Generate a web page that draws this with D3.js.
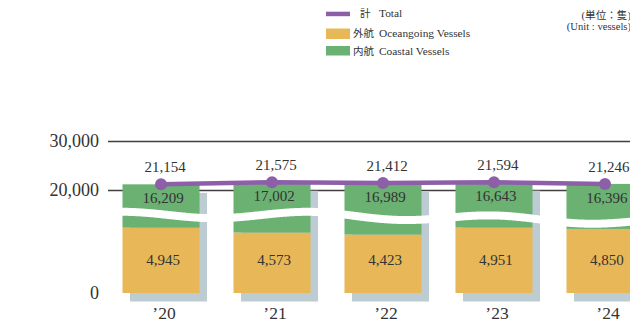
<!DOCTYPE html>
<html>
<head>
<meta charset="utf-8">
<script src="https://cdn.jsdelivr.net/npm/d3@7"></script>
<style>
  html, body { margin: 0; padding: 0; background: #fff; }
  svg { display: block; }
</style>
</head>
<body>
<svg id="chart" width="630" height="324"></svg>
<script>
// Fleet size by year (vessels)
const years = ["’20", "’21", "’22", "’23", "’24"];
const oceangoing = [4945, 4573, 4423, 4951, 4850];
const coastal = [16209, 17002, 16989, 16643, 16396];
const totals = [21154, 21575, 21412, 21594, 21246];
const yTicks = [0, 20000, 30000];

const legendItems = [
  { jp: "計", en: "Total", key: "total" },
  { jp: "外航", en: "Oceangoing Vessels", key: "ocean" },
  { jp: "内航", en: "Coastal Vessels", key: "coastal" }
];
const unitLines = ["(単位：隻)", "(Unit : vessels)"];

const colors = {
  ocean: "#e8b757",
  coastal: "#6ab172",
  total: "#8d5fa9",
  shadow: "#bdcbd3",
  grid: "#3f3f3f",
  text: "#333333"
};
const serif = "'Liberation Serif', 'Times New Roman', 'Noto Sans CJK JP', serif";

const W = 630, H = 324;
const svg = d3.select("#chart");

// Broken value axis: the lower part shows 0–5,900, the upper part 14,800–30,000
const y = d3.scaleLinear()
  .domain([0, 5900, 14800, 20000, 30000])
  .range([293, 215, 215, 190, 141]);

const x = d3.scaleBand()
  .domain(years)
  .range([122.5, 643.5])
  .paddingInner(0.306)
  .paddingOuter(0);

const rows = years.map((yr, i) => ({
  year: yr,
  ocean: oceangoing[i],
  coastal: coastal[i],
  total: totals[i]
}));

// Gridlines and tick labels
const axisLeft = 108;
const axis = d3.axisLeft(y)
  .tickValues(yTicks)
  .tickSize(-(W - axisLeft))
  .tickPadding(9)
  .tickFormat(d3.format(","));

const gAxis = svg.append("g")
  .attr("transform", `translate(${axisLeft},0)`)
  .call(axis);
gAxis.select(".domain").remove();
gAxis.selectAll(".tick line")
  .attr("stroke", colors.grid)
  .attr("stroke-width", 1.3)
  .attr("display", d => d === 0 ? "none" : null);
gAxis.selectAll(".tick text")
  .attr("fill", colors.text)
  .style("font-family", serif)
  .style("font-size", "18px");

// Drop shadows behind each bar
const shadowDx = 7.5, shadowDy = 8.5;
svg.append("g").selectAll("rect")
  .data(rows)
  .join("rect")
  .attr("x", d => x(d.year) + shadowDx)
  .attr("y", d => y(d.total) + shadowDy)
  .attr("width", x.bandwidth())
  .attr("height", d => y(0) - y(d.total))
  .attr("fill", colors.shadow);

// Stacked bars: oceangoing at the bottom, coastal on top
const gBars = svg.append("g");
gBars.selectAll("rect.ocean")
  .data(rows)
  .join("rect")
  .attr("class", "ocean")
  .attr("x", d => x(d.year))
  .attr("y", d => y(d.ocean))
  .attr("width", x.bandwidth())
  .attr("height", d => y(0) - y(d.ocean))
  .attr("fill", colors.ocean);
gBars.selectAll("rect.coastal")
  .data(rows)
  .join("rect")
  .attr("class", "coastal")
  .attr("x", d => x(d.year))
  .attr("y", d => y(d.total))
  .attr("height", d => y(d.ocean) - y(d.total))
  .attr("width", x.bandwidth())
  .attr("fill", colors.coastal);

// Wavy white band marking the axis break
const breakY = y(5900);
const waveCenter = px => breakY - 3.2 * Math.cos(2 * Math.PI * (px - 122) / 186) + 0.02 * Math.max(0, px - 312);
const wavePts = d3.range(110, W + 12, 2).map(px => [px, waveCenter(px)]);
svg.append("path")
  .attr("d", d3.line().curve(d3.curveBasis)(wavePts))
  .attr("fill", "none")
  .attr("stroke", "#ffffff")
  .attr("stroke-width", 8);

// Total line with markers
const cx = d => x(d.year) + x.bandwidth() / 2;
svg.append("path")
  .datum(rows)
  .attr("d", d3.line().x(cx).y(d => y(d.total)))
  .attr("fill", "none")
  .attr("stroke", colors.total)
  .attr("stroke-width", 4.5);
svg.append("g").selectAll("circle")
  .data(rows)
  .join("circle")
  .attr("cx", cx)
  .attr("cy", d => y(d.total))
  .attr("r", 6)
  .attr("fill", colors.total);

// Value labels
const fmt = d3.format(",");
const labelStyle = sel => sel
  .attr("text-anchor", "middle")
  .attr("fill", colors.text)
  .style("font-family", serif)
  .style("font-size", "15px");

svg.append("g").selectAll("text")
  .data(rows)
  .join("text")
  .attr("x", d => cx(d) + 4)
  .attr("y", d => y(d.total) - 12)
  .text(d => fmt(d.total))
  .call(labelStyle);

svg.append("g").selectAll("text")
  .data(rows)
  .join("text")
  .attr("x", d => cx(d) + 2)
  .attr("y", d => y(d.total) + 19)
  .text(d => fmt(d.coastal))
  .call(labelStyle);

const oceanLabelY = (y(0) + y(5000)) / 2 + 5;
svg.append("g").selectAll("text")
  .data(rows)
  .join("text")
  .attr("x", d => cx(d) + 2)
  .attr("y", oceanLabelY)
  .text(d => fmt(d.ocean))
  .call(labelStyle);

// Year labels
svg.append("g").selectAll("text")
  .data(rows)
  .join("text")
  .attr("x", d => cx(d) + 3)
  .attr("y", 319)
  .attr("text-anchor", "middle")
  .attr("fill", colors.text)
  .style("font-family", serif)
  .style("font-size", "17.5px")
  .text(d => d.year);

// Legend
const legend = svg.append("g");
const swatch = {
  total: { y: 11.7, h: 4.5 },
  ocean: { y: 28.5, h: 10.5 },
  coastal: { y: 46, h: 9.5 }
};
const baselines = [17, 36.5, 54.5];
legendItems.forEach((item, i) => {
  legend.append("rect")
    .attr("x", 326)
    .attr("y", swatch[item.key].y)
    .attr("width", 24)
    .attr("height", swatch[item.key].h)
    .attr("fill", colors[item.key]);
  legend.append("text")
    .attr("x", item.jp.length === 1 ? 360 : 353)
    .attr("y", baselines[i])
    .attr("fill", colors.text)
    .style("font-family", "'Noto Sans CJK JP', sans-serif")
    .style("font-size", "10.5px")
    .text(item.jp);
  legend.append("text")
    .attr("x", 379)
    .attr("y", baselines[i])
    .attr("fill", colors.text)
    .style("font-family", serif)
    .style("font-size", "11.4px")
    .text(item.en);
});

// Unit note
svg.append("g").selectAll("text")
  .data(unitLines)
  .join("text")
  .attr("x", 631)
  .attr("y", (d, i) => 18.5 + i * 11.5)
  .attr("text-anchor", "end")
  .attr("fill", colors.text)
  .style("font-family", serif)
  .style("font-size", "10.6px")
  .text(d => d);
</script>
</body>
</html>
